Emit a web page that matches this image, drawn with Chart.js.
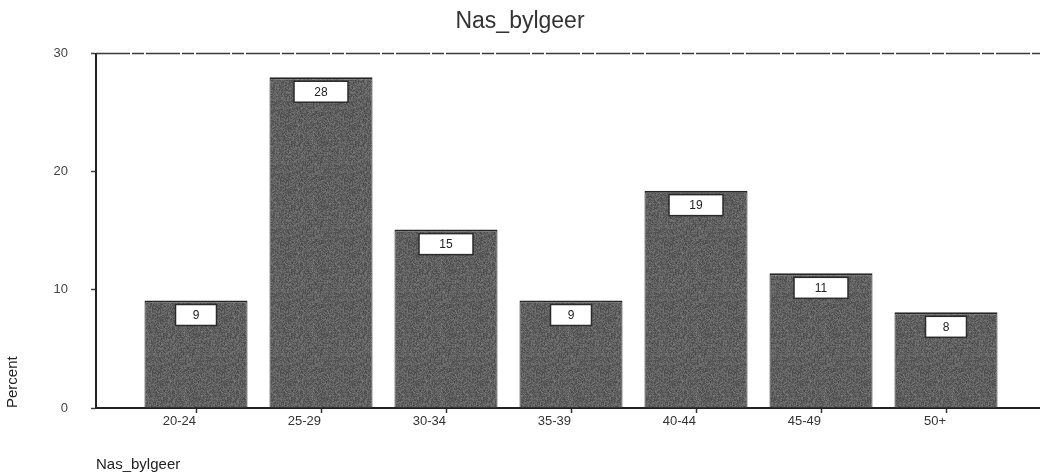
<!DOCTYPE html>
<html>
<head>
<meta charset="utf-8">
<script src="https://cdn.jsdelivr.net/npm/chart.js@4/dist/chart.umd.min.js"></script>
<style>
  html, body { margin: 0; padding: 0; background: #fff; }
  #wrap { width: 1040px; height: 474px; position: relative; }
</style>
</head>
<body>
<div id="wrap"><canvas id="chart" width="1040" height="474"></canvas></div>
<script>
// data
const categories = ['20-24', '25-29', '30-34', '35-39', '40-44', '45-49', '50+'];
const percents = [9.1, 28.0, 15.1, 9.1, 18.4, 11.4, 8.1];
const valueLabels = ['9', '28', '15', '9', '19', '11', '8'];
const yTicks = [0, 10, 20, 30];

const FONT = "'Liberation Sans', Arial, sans-serif";

// grainy gray fill like the scanned bars
function grainPattern() {
    const c = document.createElement('canvas');
    c.width = 64; c.height = 64;
    const g = c.getContext('2d');
    const img = g.createImageData(64, 64);
    let s = 12345;
    for (let i = 0; i < 64 * 64; i++) {
        s = (s * 1103515245 + 12345) & 0x7fffffff;
        const v = 96 + ((s >> 8) % 44) - 22;
        img.data[i * 4] = v; img.data[i * 4 + 1] = v; img.data[i * 4 + 2] = v; img.data[i * 4 + 3] = 255;
    }
    g.putImageData(img, 0, 0);
    return g.createPattern(c, 'repeat');
}

// dashed line along the top of the plot
const topLine = {
    id: 'topLine',
    afterDraw(chart) {
        const { ctx, chartArea } = chart;
        ctx.save();
        ctx.strokeStyle = '#3a3a3a';
        ctx.lineWidth = 1.5;
        ctx.setLineDash([34, 2, 12, 2]);
        ctx.beginPath();
        ctx.moveTo(chartArea.left, chartArea.top);
        ctx.lineTo(chartArea.right, chartArea.top);
        ctx.stroke();
        ctx.restore();
    }
};

// white value boxes inside the top of each bar
const valueBoxes = {
    id: 'valueBoxes',
    afterDatasetsDraw(chart) {
        const { ctx } = chart;
        const meta = chart.getDatasetMeta(0);
        ctx.save();
        ctx.font = '12px ' + FONT;
        ctx.textAlign = 'center';
        ctx.textBaseline = 'middle';
        meta.data.forEach((bar, i) => {
            const txt = valueLabels[i];
            const w = 28 + 13 * txt.length, h = 21;
            const x = bar.x - w / 2, y = bar.y + 4;
            ctx.fillStyle = '#fff';
            ctx.fillRect(x, y, w, h);
            ctx.strokeStyle = '#2a2a2a';
            ctx.lineWidth = 1.5;
            ctx.strokeRect(x, y, w, h);
            ctx.fillStyle = '#222';
            ctx.fillText(txt, bar.x, y + h / 2 + 1);
        });
        ctx.restore();
    }
};

const ctx = document.getElementById('chart').getContext('2d');
new Chart(ctx, {
    type: 'bar',
    data: {
        datasets: [{
            data: percents.map((v, i) => ({ x: i, y: v })),
            backgroundColor: grainPattern(),
            borderColor: '#262626',
            borderWidth: { top: 2, left: 1, right: 1, bottom: 0 },
            borderSkipped: false,
            categoryPercentage: 1,
            barPercentage: 0.824
        }]
    },
    options: {
        responsive: false,
        animation: false,
        layout: { padding: 0 },
        plugins: {
            legend: { display: false },
            tooltip: { enabled: false },
            title: {
                display: true,
                text: 'Nas_bylgeer',
                color: '#333',
                font: { family: FONT, size: 23, weight: 'normal' },
                padding: { top: 8, bottom: 18 }
            }
        },
        scales: {
            x: {
                type: 'linear',
                min: -0.8,
                max: 6.752,
                offset: false,
                afterBuildTicks: s => { s.ticks = categories.map((_, i) => ({ value: i })); },
                afterFit: s => { s.height = 66; },
                grid: { offset: false, drawOnChartArea: false, tickLength: 5, tickColor: '#333', tickWidth: 1.5 },
                border: { color: '#222', width: 2 },
                ticks: {
                    autoSkip: false, maxRotation: 0, align: 'end', padding: 1,
                    color: '#333', font: { family: FONT, size: 13 },
                    callback: v => categories[v] ?? ''
                },
                title: {
                    display: true, text: 'Nas_bylgeer', align: 'start',
                    color: '#222', font: { family: FONT, size: 15 },
                    padding: { top: 5, bottom: 0 }
                }
            },
            y: {
                min: 0,
                max: 30,
                afterBuildTicks: s => { s.ticks = yTicks.map(v => ({ value: v })); },
                afterFit: s => { s.width = 96; },
                grid: { drawOnChartArea: false, tickLength: 5, tickColor: '#444', tickWidth: 1.5 },
                border: { color: '#222', width: 2 },
                ticks: { padding: 23, color: '#444', font: { family: FONT, size: 13 } },
                title: {
                    display: true, text: 'Percent', align: 'start',
                    color: '#222', font: { family: FONT, size: 15 },
                    padding: { top: 4, bottom: 0 }
                }
            }
        }
    },
    plugins: [topLine, valueBoxes]
});
</script>
</body>
</html>
